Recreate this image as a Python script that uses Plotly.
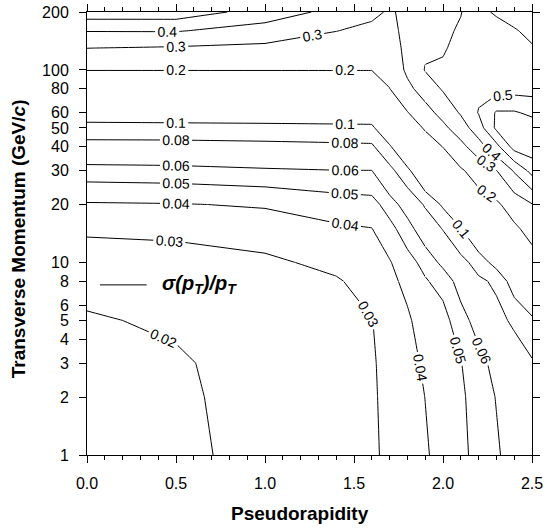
import plotly.graph_objects as go

# Pseudorapidity grid (columns) and transverse momentum grid (rows, GeV/c)
eta = [0.0, 0.5, 1.0, 1.4, 1.6, 1.7, 1.8, 1.9, 2.0, 2.1, 2.2, 2.3, 2.4, 2.5]
pt = [1, 2, 3, 5, 8, 10, 15, 20, 30, 40, 50, 60, 80, 100, 130, 160, 200]

# sigma(pT)/pT, one list per pseudorapidity column (values for each pt row)
res_eta_00 = [0.016, 0.017, 0.018, 0.0192, 0.0225, 0.024, 0.032, 0.039, 0.0555, 0.0734, 0.0914, 0.1146, 0.163, 0.201, 0.301, 0.405, 0.56]
res_eta_05 = [0.018, 0.0185, 0.019, 0.0212, 0.0235, 0.025, 0.033, 0.0395, 0.0563, 0.0736, 0.0919, 0.116, 0.163, 0.201, 0.291, 0.407, 0.56]
res_eta_10 = [0.0228, 0.0232, 0.0235, 0.0245, 0.0265, 0.028, 0.0353, 0.0409, 0.0584, 0.0749, 0.0927, 0.117, 0.164, 0.201, 0.279, 0.359, 0.456]
res_eta_14 = [0.027, 0.0272, 0.0275, 0.028, 0.029, 0.0327, 0.0385, 0.0451, 0.0597, 0.0763, 0.0938, 0.118, 0.164, 0.201, 0.257, 0.302, 0.37]
res_eta_16 = [0.0285, 0.0288, 0.029, 0.0297, 0.0339, 0.036, 0.0398, 0.0464, 0.0598, 0.0771, 0.0945, 0.118, 0.165, 0.201, 0.245, 0.28, 0.32]
res_eta_17 = [0.032, 0.0325, 0.033, 0.0345, 0.0375, 0.0392, 0.047, 0.0544, 0.0744, 0.0966, 0.128, 0.156, 0.199, 0.22, 0.245, 0.27, 0.29]
res_eta_18 = [0.0355, 0.036, 0.037, 0.0385, 0.0426, 0.0466, 0.0553, 0.0659, 0.094, 0.133, 0.167, 0.196, 0.275, 0.32, 0.33, 0.33, 0.32]
res_eta_19 = [0.039, 0.0401, 0.0414, 0.0447, 0.0491, 0.0529, 0.068, 0.0821, 0.128, 0.17, 0.206, 0.263, 0.346, 0.405, 0.385, 0.365, 0.35]
res_eta_20 = [0.0432, 0.0442, 0.0455, 0.0465, 0.0535, 0.063, 0.081, 0.1035, 0.16, 0.2015, 0.276, 0.334, 0.41, 0.415, 0.39, 0.375, 0.37]
res_eta_21 = [0.0477, 0.0485, 0.0496, 0.0557, 0.0649, 0.074, 0.0993, 0.137, 0.19, 0.271, 0.354, 0.41, 0.43, 0.44, 0.43, 0.415, 0.395]
res_eta_22 = [0.053, 0.054, 0.0565, 0.0647, 0.0769, 0.0875, 0.128, 0.164, 0.236, 0.36, 0.453, 0.505, 0.48, 0.45, 0.45, 0.46, 0.48]
res_eta_23 = [0.0585, 0.0605, 0.0635, 0.0749, 0.083, 0.109, 0.153, 0.185, 0.2975, 0.47, 0.62, 0.61, 0.46, 0.42, 0.44, 0.47, 0.51]
res_eta_24 = [0.065, 0.068, 0.071, 0.083, 0.112, 0.138, 0.185, 0.242, 0.41, 0.64, 0.66, 0.61, 0.46, 0.44, 0.46, 0.49, 0.55]
res_eta_25 = [0.07, 0.073, 0.078, 0.095, 0.139, 0.166, 0.231, 0.295, 0.534, 0.66, 0.65, 0.58, 0.46, 0.45, 0.49, 0.53, 0.58]

levels = [0.02, 0.03, 0.04, 0.05, 0.06, 0.08, 0.1, 0.2, 0.3, 0.4, 0.5, 0.6]

x_tickvals = [0.0, 0.5, 1.0, 1.5, 2.0, 2.5]
x_ticktext = ["0.0", "0.5", "1.0", "1.5", "2.0", "2.5"]
y_tickvals = [1, 2, 3, 4, 5, 6, 8, 10, 20, 30, 40, 50, 60, 80, 100, 200]
y_ticktext = ["1", "2", "3", "4", "5", "6", "8", "10", "20", "30", "40", "50", "60", "80", "100", "200"]

columns = [res_eta_00, res_eta_05, res_eta_10, res_eta_14, res_eta_16, res_eta_17, res_eta_18,
           res_eta_19, res_eta_20, res_eta_21, res_eta_22, res_eta_23, res_eta_24, res_eta_25]
z = [[col[i] for col in columns] for i in range(len(pt))]

# The grid is drawn in adjoining blocks (sharing their edge rows/columns) so that
# every stretch of a contour line gets its own inline label, as in the original.
# (row_start, row_end, col_start, col_end), inclusive indices
blocks = [
    (0, 4, 0, 13),   # pT 1-8, all eta
    (4, 16, 0, 2),   # pT 8-200, eta 0-1.0
    (4, 16, 2, 7),   # pT 8-200, eta 1.0-1.9
    (4, 16, 7, 13),  # pT 8-200, eta 1.9-2.5
]

FONT = "Liberation Sans, Arial, sans-serif"

fig = go.Figure()
for (r0, r1, c0, c1) in blocks:
    bx = eta[c0:c1 + 1]
    by = pt[r0:r1 + 1]
    bz = [row[c0:c1 + 1] for row in z[r0:r1 + 1]]
    for lev in levels:
        fig.add_trace(go.Contour(
            x=bx, y=by, z=bz,
            autocontour=False,
            contours=dict(start=lev, end=lev, size=1, coloring="none", showlabels=True,
                          labelfont=dict(family=FONT, size=14, color="black")),
            line=dict(color="black", width=1, smoothing=0),
            showscale=False, hoverinfo="skip", showlegend=False,
        ))

axis_common = dict(
    showline=True, linecolor="black", linewidth=1, mirror="allticks",
    ticks="outside", ticklen=7, tickwidth=1, tickcolor="black",
    showgrid=False, zeroline=False,
    tickfont=dict(family=FONT, size=16, color="black"),
)

fig.update_xaxes(range=[0, 2.5], tickmode="array", tickvals=x_tickvals, ticktext=x_ticktext,
                 ticklabelstandoff=7,
                 minor=dict(dtick=0.1, ticks="outside", ticklen=4, tickcolor="black", showgrid=False),
                 **axis_common)
fig.update_yaxes(type="log", range=[0, 2.30103], tickmode="array", tickvals=y_tickvals, ticktext=y_ticktext,
                 ticklabelstandoff=7, **axis_common)

fig.add_shape(type="line", xref="paper", yref="paper", x0=0.029, x1=0.134, y0=0.384, y1=0.384,
              line=dict(color="black", width=1))
fig.add_annotation(xref="paper", yref="paper", x=0.163, y=0.384, xanchor="left", yanchor="middle",
                   text="<b><i>σ(p<sub>T</sub>)/p<sub>T</sub></i></b>", showarrow=False,
                   font=dict(family=FONT, size=20, color="black"))

fig.add_annotation(xref="paper", yref="paper", x=0.479, y=-0.133, xanchor="center", yanchor="middle",
                   text="<b>Pseudorapidity</b>", showarrow=False,
                   font=dict(family=FONT, size=19, color="black"))
fig.add_annotation(xref="paper", yref="paper", x=-0.154, y=0.488, xanchor="center", yanchor="middle",
                   textangle=-90, text="<b>Transverse Momentum (GeV/<i>c</i>)</b>", showarrow=False,
                   font=dict(family=FONT, size=19, color="black"))

fig.update_layout(
    width=547, height=531, autosize=False,
    margin=dict(l=87, r=13, t=4, b=76),
    paper_bgcolor="white", plot_bgcolor="white",
    showlegend=False,
)

fig.write_html(
    "out.html",
    config={"responsive": False, "displayModeBar": False},
    post_script="document.body.style.margin='0px';document.body.style.overflow='hidden';",
)
